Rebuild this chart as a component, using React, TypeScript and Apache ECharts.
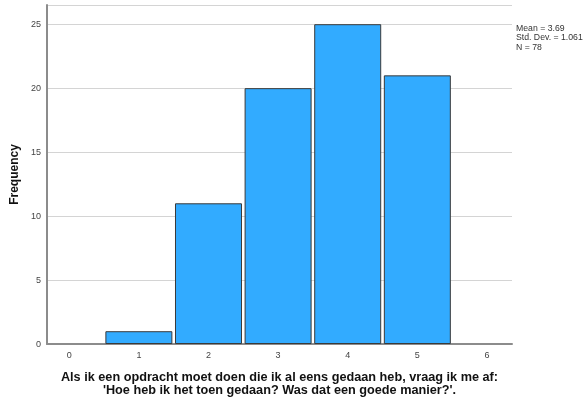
import React, { useEffect, useRef } from "react";
import * as echarts from "echarts";

const categories = [0, 1, 2, 3, 4, 5, 6];
const values = [0, 1, 11, 20, 25, 21, 0];
const yTicks = [0, 5, 10, 15, 20, 25];
const statsLines = ["Mean = 3.69", "Std. Dev. = 1.061", "N = 78"];
const xTitle = [
  "Als ik een opdracht moet doen die ik al eens gedaan heb, vraag ik me af:",
  "'Hoe heb ik het toen gedaan? Was dat een goede manier?'.",
];

export default function App() {
  const ref = useRef<HTMLDivElement>(null);
  useEffect(() => {
    if (!ref.current) return;
    const chart = echarts.init(ref.current, null, { renderer: "svg" });
    const font = "'Liberation Sans', Arial, sans-serif";
    chart.setOption({
      animation: false,
      grid: {
        left: 47,
        right: 74,
        top: 5,
        bottom: 56,
        containLabel: false,
        outerBoundsMode: "none",
      },
      xAxis: {
        type: "value",
        min: -0.32,
        max: 6.36,
        axisLine: { show: true, onZero: false, lineStyle: { color: "#8c8c8c", width: 2 } },
        axisTick: { show: false },
        splitLine: { show: false },
        axisLabel: {
          customValues: categories,
          fontFamily: font,
          fontSize: 9,
          color: "#444",
          margin: 6,
        },
        name: xTitle.join("\n"),
        nameLocation: "middle",
        nameGap: 26,
        nameTextStyle: {
          fontFamily: font,
          fontSize: 12.7,
          fontWeight: "bold",
          color: "#111",
          lineHeight: 13,
        },
      },
      yAxis: {
        type: "value",
        min: 0,
        max: 26.5,
        axisLine: { show: true, onZero: false, lineStyle: { color: "#8c8c8c", width: 2 } },
        axisTick: { show: false },
        splitLine: { show: true, lineStyle: { color: "#d4d4d4", width: 1 } },
        axisLabel: {
          customValues: yTicks,
          fontFamily: font,
          fontSize: 9,
          color: "#444",
          margin: 6,
        },
        name: "Frequency",
        nameLocation: "middle",
        nameGap: 23,
        nameTextStyle: {
          fontFamily: font,
          fontSize: 12,
          fontWeight: "bold",
          color: "#111",
        },
      },
      graphic: [
        {
          type: "text",
          left: 516,
          top: 23,
          style: {
            text: statsLines.join("\n"),
            fontFamily: font,
            fontSize: 8.7,
            lineHeight: 9.5,
            fill: "#333",
          },
        },
      ],
      series: [
        {
          type: "bar",
          data: categories
            .map((c, i) => [c, values[i]])
            .filter((d) => d[1] > 0),
          barWidth: 67,
          itemStyle: {
            color: "#32abff",
            borderColor: "#3a3a3a",
            borderWidth: 1,
          },
        },
      ],
    });
    return () => chart.dispose();
  }, []);
  return (
    <div
      ref={ref}
      style={{ position: "fixed", left: 0, top: 0, width: 586, height: 400 }}
    />
  );
}
